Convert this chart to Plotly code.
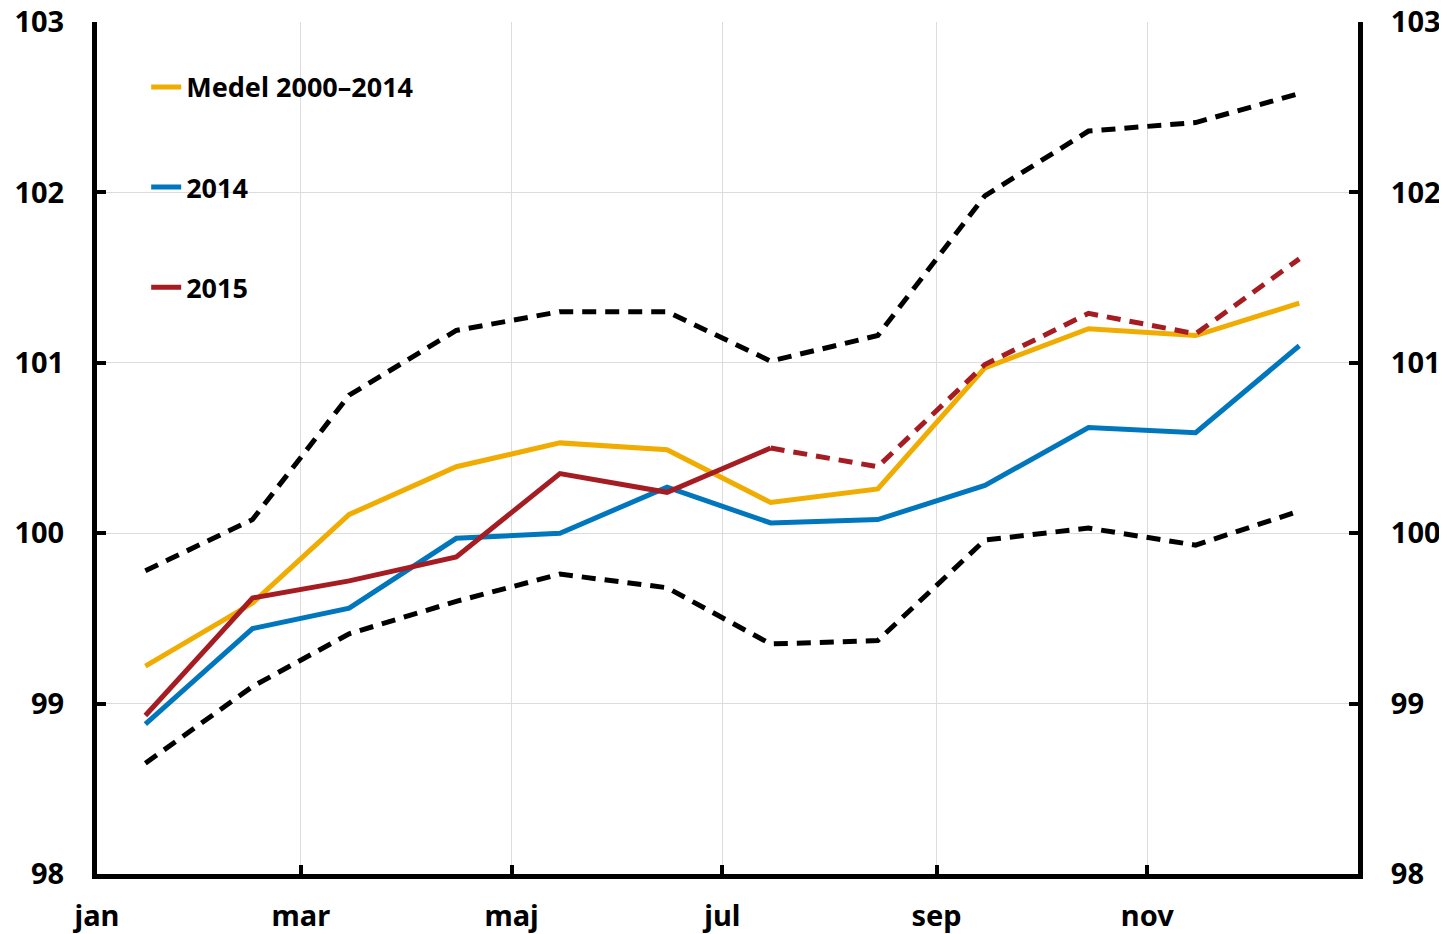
import plotly.graph_objects as go

months = ["2015-01-15", "2015-02-15", "2015-03-15", "2015-04-15", "2015-05-15", "2015-06-15",
          "2015-07-15", "2015-08-15", "2015-09-15", "2015-10-15", "2015-11-15", "2015-12-15"]

medel = [99.22, 99.59, 100.11, 100.39, 100.53, 100.49, 100.18, 100.26, 100.97, 101.20, 101.16, 101.35]
y2014 = [98.88, 99.44, 99.56, 99.97, 100.00, 100.27, 100.06, 100.08, 100.28, 100.62, 100.59, 101.10]
y2015 = [98.93, 99.62, 99.72, 99.86, 100.35, 100.24, 100.50]
y2015_fc = [100.50, 100.39, 100.99, 101.29, 101.17, 101.61]
upper = [99.78, 100.08, 100.81, 101.19, 101.30, 101.30, 101.01, 101.16, 101.98, 102.36, 102.41, 102.58]
lower = [98.65, 99.10, 99.41, 99.60, 99.76, 99.68, 99.35, 99.37, 99.96, 100.03, 99.93, 100.13]

tick_dates = ["2015-01-01", "2015-03-01", "2015-05-01", "2015-07-01", "2015-09-01", "2015-11-01"]
tick_text = ["jan", "mar", "maj", "jul", "sep", "nov"]
y_ticks = [98, 99, 100, 101, 102, 103]

YELLOW = "#F0AC00"
BLUE = "#0077BD"
RED = "#A51D23"
FONT = "Noto Sans"
LW = 5
DASH = "14px,9px"

fig = go.Figure()
fig.add_trace(go.Scatter(x=months, y=upper, mode="lines", showlegend=False,
                         line=dict(color="black", width=LW, dash=DASH)))
fig.add_trace(go.Scatter(x=months, y=lower, mode="lines", showlegend=False,
                         line=dict(color="black", width=LW, dash=DASH)))
fig.add_trace(go.Scatter(x=months, y=medel, mode="lines", name="Medel 2000–2014",
                         legendgroup="a", line=dict(color=YELLOW, width=LW)))
fig.add_trace(go.Scatter(x=months, y=y2014, mode="lines", name="2014",
                         legendgroup="b", line=dict(color=BLUE, width=LW)))
fig.add_trace(go.Scatter(x=months[6:], y=y2015_fc, mode="lines", showlegend=False,
                         line=dict(color=RED, width=LW, dash=DASH)))
fig.add_trace(go.Scatter(x=months[:7], y=y2015, mode="lines", name="2015",
                         legendgroup="c", line=dict(color=RED, width=LW)))
# invisible trace so the right-hand axis is drawn
fig.add_trace(go.Scatter(x=months, y=medel, mode="lines", showlegend=False, yaxis="y2",
                         hoverinfo="skip", line=dict(color="rgba(0,0,0,0)", width=0)))

axis_font = dict(family=FONT, size=29, color="black", weight="bold")

fig.update_layout(
    width=1439, height=926,
    margin=dict(l=89, r=89, t=14, b=60),
    paper_bgcolor="white", plot_bgcolor="white",
    font=dict(family=FONT, color="black"),
    showlegend=True,
    legend=dict(x=0.039, y=0.952, xanchor="left", yanchor="top",
                font=dict(family=FONT, size=27, color="black", weight="bold"),
                bgcolor="rgba(0,0,0,0)", tracegroupgap=62, traceorder="grouped",
                itemwidth=30),
    xaxis=dict(type="date", range=["2015-01-01", "2016-01-01"],
               tickmode="array", tickvals=tick_dates, ticktext=tick_text,
               ticks="inside", ticklen=9, tickwidth=4, tickcolor="black",
               showline=True, linecolor="black", linewidth=5,
               showgrid=True, gridcolor="#dcdcdc", gridwidth=1, automargin=False,
               tickfont=axis_font, ticklabelstandoff=12, zeroline=False,
               ticklabeloverflow="allow"),
    yaxis=dict(range=[98, 103], tickvals=y_ticks,
               ticks="inside", ticklen=9, tickwidth=4, tickcolor="black",
               showline=True, linecolor="black", linewidth=5, automargin=False,
               showgrid=True, gridcolor="#dcdcdc", gridwidth=1,
               tickfont=axis_font, ticklabelstandoff=22, zeroline=False,
               ticklabeloverflow="allow"),
    yaxis2=dict(range=[98, 103], tickvals=y_ticks, overlaying="y", side="right",
                ticks="inside", ticklen=9, tickwidth=4, tickcolor="black",
                showline=True, linecolor="black", linewidth=5, automargin=False,
                showgrid=False, tickfont=axis_font, ticklabelstandoff=22, zeroline=False,
                ticklabeloverflow="allow"),
)

fig.write_html("out.html")
